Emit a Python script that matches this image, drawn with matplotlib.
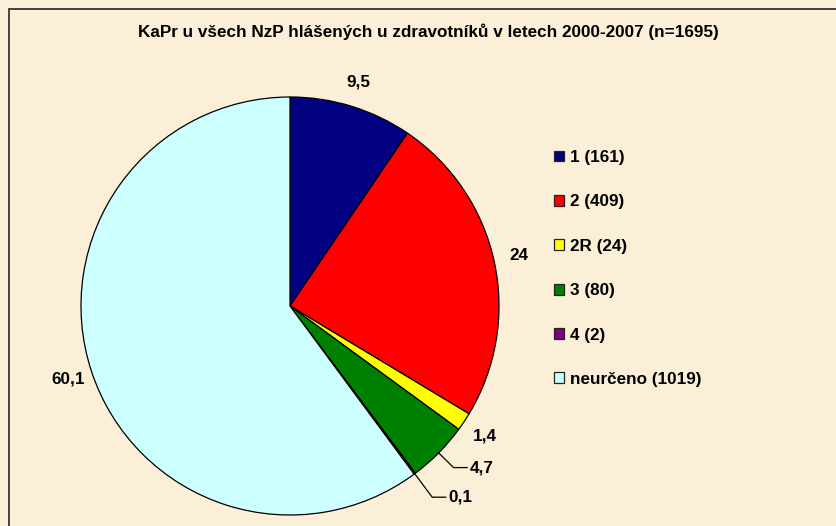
import numpy as np
import matplotlib
matplotlib.use('Agg')
import matplotlib.pyplot as plt
from matplotlib.patches import Patch, Rectangle

plt.rcParams['font.family'] = ['Liberation Sans', 'DejaVu Sans']
plt.rcParams['font.weight'] = 'bold'

title = 'KaPr u všech NzP hlášených u zdravotníků v letech 2000-2007 (n=1695)'
categories = ['1', '2', '2R', '3', '4', 'neurčeno']
counts = [161, 409, 24, 80, 2, 1019]
pct_labels = ['9,5', '24', '1,4', '4,7', '0,1', '60,1']
colors = ['#000080', '#FF0000', '#FFFF00', '#008000', '#800080', '#CCFFFF']
leader = [False, False, False, True, True, False]

W, H = 836, 526
bg = '#FBEFD8'
fs = 12.3
fig = plt.figure(figsize=(W / 100, H / 100), dpi=100, facecolor=bg)

# outer frame (right and bottom edges fall outside the picture)
fig.patches.append(Rectangle((9 / W, -0.1), 1.2, 1 - 9 / H + 0.1, transform=fig.transFigure,
                             fill=False, edgecolor='#333333', linewidth=1.3))

fig.text(428 / W, 1 - 32 / H, title, ha='center', va='center', fontsize=12.3, fontweight='bold')

# pie centre (290, 306) px, radius 209 px
cx, cy, r = 290, 306, 209
ax = fig.add_axes([(cx - r) / W, (H - cy - r) / H, 2 * r / W, 2 * r / H])

wedges, _ = ax.pie(counts, colors=colors, startangle=90, counterclock=False, radius=1.0,
                   wedgeprops=dict(edgecolor='black', linewidth=0.9))
ax.set_xlim(-1, 1)
ax.set_ylim(-1, 1)
ax.axis('off')

for w, lab, ld in zip(wedges, pct_labels, leader):
    a = np.deg2rad((w.theta1 + w.theta2) / 2)
    if not ld:
        ax.text(1.12 * np.cos(a), 1.12 * np.sin(a), lab, ha='center', va='center',
                fontsize=fs, fontweight='bold')
    else:
        x0, y0 = np.cos(a), np.sin(a)
        d = 1.10 if y0 > -0.75 else 1.14
        x1, y1 = d * np.cos(a), d * np.sin(a)
        x2 = x1 + 0.065
        ax.plot([x0, x1, x2], [y0, y1, y1], color='black', lw=0.9, clip_on=False)
        ax.text(x2 + 0.012, y1, lab, ha='left', va='center', fontsize=fs, fontweight='bold')

handles = [Patch(facecolor=c, edgecolor='#222222', linewidth=0.9) for c in colors]
labels = ['%s (%d)' % (c, n) for c, n in zip(categories, counts)]
fig.legend(handles, labels, loc='upper left', bbox_to_anchor=(554 / W, 1 - 150 / H),
           frameon=False, fontsize=fs, handlelength=0.6, handleheight=0.6,
           handletextpad=0.35, labelspacing=1.72, borderaxespad=0, borderpad=0)

fig.savefig('out.png', dpi=100, facecolor=bg)
